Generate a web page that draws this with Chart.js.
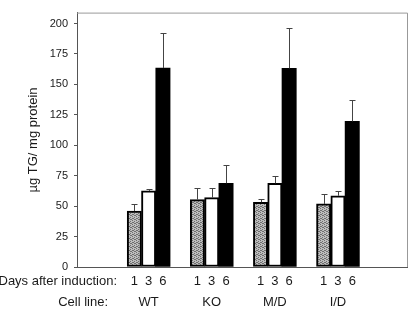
<!DOCTYPE html>
<html>
<head>
<meta charset="utf-8">
<script src="https://cdn.jsdelivr.net/npm/chart.js@4.4.1/dist/chart.umd.min.js"></script>
<style>
  html, body { margin: 0; padding: 0; background: #fff; }
</style>
</head>
<body>
<canvas id="c" width="410" height="309"></canvas>
<script>
// values
const cellLines = ['WT', 'KO', 'M/D', 'I/D'];
const days = ['1', '3', '6'];
const day1 = [46, 55.3, 53.2, 51.8];
const day3 = [62.5, 57, 68.8, 58.5];
const day6 = [163.5, 68.8, 163.2, 119.6];
const day1Err = [5.5, 9.7, 2.9, 8.2];
const day3Err = [1.2, 7.5, 6.3, 3.9];
const day6Err = [28.5, 14.8, 33.5, 18];
const yTicks = [0, 25, 50, 75, 100, 125, 150, 175, 200];

const FONT = '"Liberation Sans", Arial, sans-serif';
const BAR_W = 14.3;

// stippled grey fill (fixed 4x4 dot tile)
function stipple() {
  const c = document.createElement('canvas');
  c.width = 4; c.height = 4;
  const g = c.getContext('2d');
  g.fillStyle = '#bdbdbd'; g.fillRect(0, 0, 4, 4);
  g.fillStyle = '#6f6f6f';
  [[0, 0], [2, 1], [1, 2], [3, 3], [2, 3], [0, 2]].forEach(p => g.fillRect(p[0], p[1], 1, 1));
  return g.createPattern(c, 'repeat');
}

const toPoints = arr => arr.map((v, i) => ({ x: i + 1, y: v }));

const extras = {
  id: 'extras',
  afterDatasetsDraw(chart) {
    const ctx = chart.ctx;
    const y = chart.scales.y;
    ctx.save();
    ctx.strokeStyle = '#444';
    ctx.lineWidth = 1;
    chart.data.datasets.forEach((ds, di) => {
      const meta = chart.getDatasetMeta(di);
      meta.data.forEach((bar, i) => {
        const x = Math.round(bar.x) + 0.5;
        const top = Math.round(y.getPixelForValue(ds.data[i].y + ds.err[i])) + 0.5;
        ctx.beginPath();
        ctx.moveTo(x, bar.y);
        ctx.lineTo(x, top);
        ctx.moveTo(x - 3, top);
        ctx.lineTo(x + 3, top);
        ctx.stroke();
      });
    });
    ctx.restore();
  },
  afterDraw(chart) {
    const ctx = chart.ctx;
    const a = chart.chartArea;
    const xs = chart.scales.x;
    ctx.save();
    // frame
    ctx.lineWidth = 1;
    ctx.strokeStyle = '#999';
    ctx.beginPath();
    ctx.moveTo(a.left, a.top + 0.5);
    ctx.lineTo(a.right - 0.5, a.top + 0.5);
    ctx.lineTo(a.right - 0.5, a.bottom);
    ctx.stroke();
    ctx.strokeStyle = '#555';
    ctx.beginPath();
    ctx.moveTo(a.left, a.bottom + 0.5);
    ctx.lineTo(a.right, a.bottom + 0.5);
    ctx.stroke();

    // y title
    ctx.fillStyle = '#1a1a1a';
    ctx.font = '13px ' + FONT;
    ctx.textAlign = 'center';
    ctx.textBaseline = 'middle';
    ctx.translate(33, 140);
    ctx.rotate(-Math.PI / 2);
    ctx.fillText('µg TG/ mg protein', 0, 0);
    ctx.setTransform(1, 0, 0, 1, 0, 0);

    // bottom labels
    ctx.font = '13px ' + FONT;
    ctx.textAlign = 'right';
    ctx.fillText('Days after induction:', 117, 281);
    ctx.fillText('Cell line:', 108, 302);
    ctx.textAlign = 'center';
    chart.data.datasets.forEach((ds, di) => {
      chart.getDatasetMeta(di).data.forEach(bar => {
        ctx.fillText(days[di], bar.x, 281);
      });
    });
    cellLines.forEach((name, i) => {
      ctx.fillText(name, xs.getPixelForValue(i + 1), 302);
    });
    ctx.restore();
  }
};

new Chart(document.getElementById('c'), {
  type: 'bar',
  data: {
    datasets: [
      { label: days[0], data: toPoints(day1), err: day1Err, barThickness: BAR_W, backgroundColor: stipple(), borderColor: '#000', borderWidth: 2, borderSkipped: false },
      { label: days[1], data: toPoints(day3), err: day3Err, barThickness: BAR_W, backgroundColor: '#fff', borderColor: '#000', borderWidth: 2, borderSkipped: false },
      { label: days[2], data: toPoints(day6), err: day6Err, barThickness: BAR_W, backgroundColor: '#000', borderColor: '#000', borderWidth: 0 }
    ]
  },
  options: {
    responsive: false,
    animation: false,
    layout: { padding: { top: 3, right: 2, bottom: 42, left: 0 } },
    plugins: { legend: { display: false }, tooltip: { enabled: false } },
    scales: {
      x: {
        type: 'linear',
        display: false,
        offset: false,
        min: -0.135,
        max: 5.11
      },
      y: {
        min: 0,
        max: 209,
        afterBuildTicks: s => { s.ticks = yTicks.map(v => ({ value: v })); },
        afterFit: s => { s.width = 77; },
        border: { display: true, color: '#555', width: 1 },
        grid: { drawOnChartArea: false, drawTicks: true, tickLength: 3, color: '#555' },
        ticks: { font: { size: 11, family: FONT }, color: '#1a1a1a', padding: 6 }
      }
    }
  },
  plugins: [extras]
});
</script>
</body>
</html>
